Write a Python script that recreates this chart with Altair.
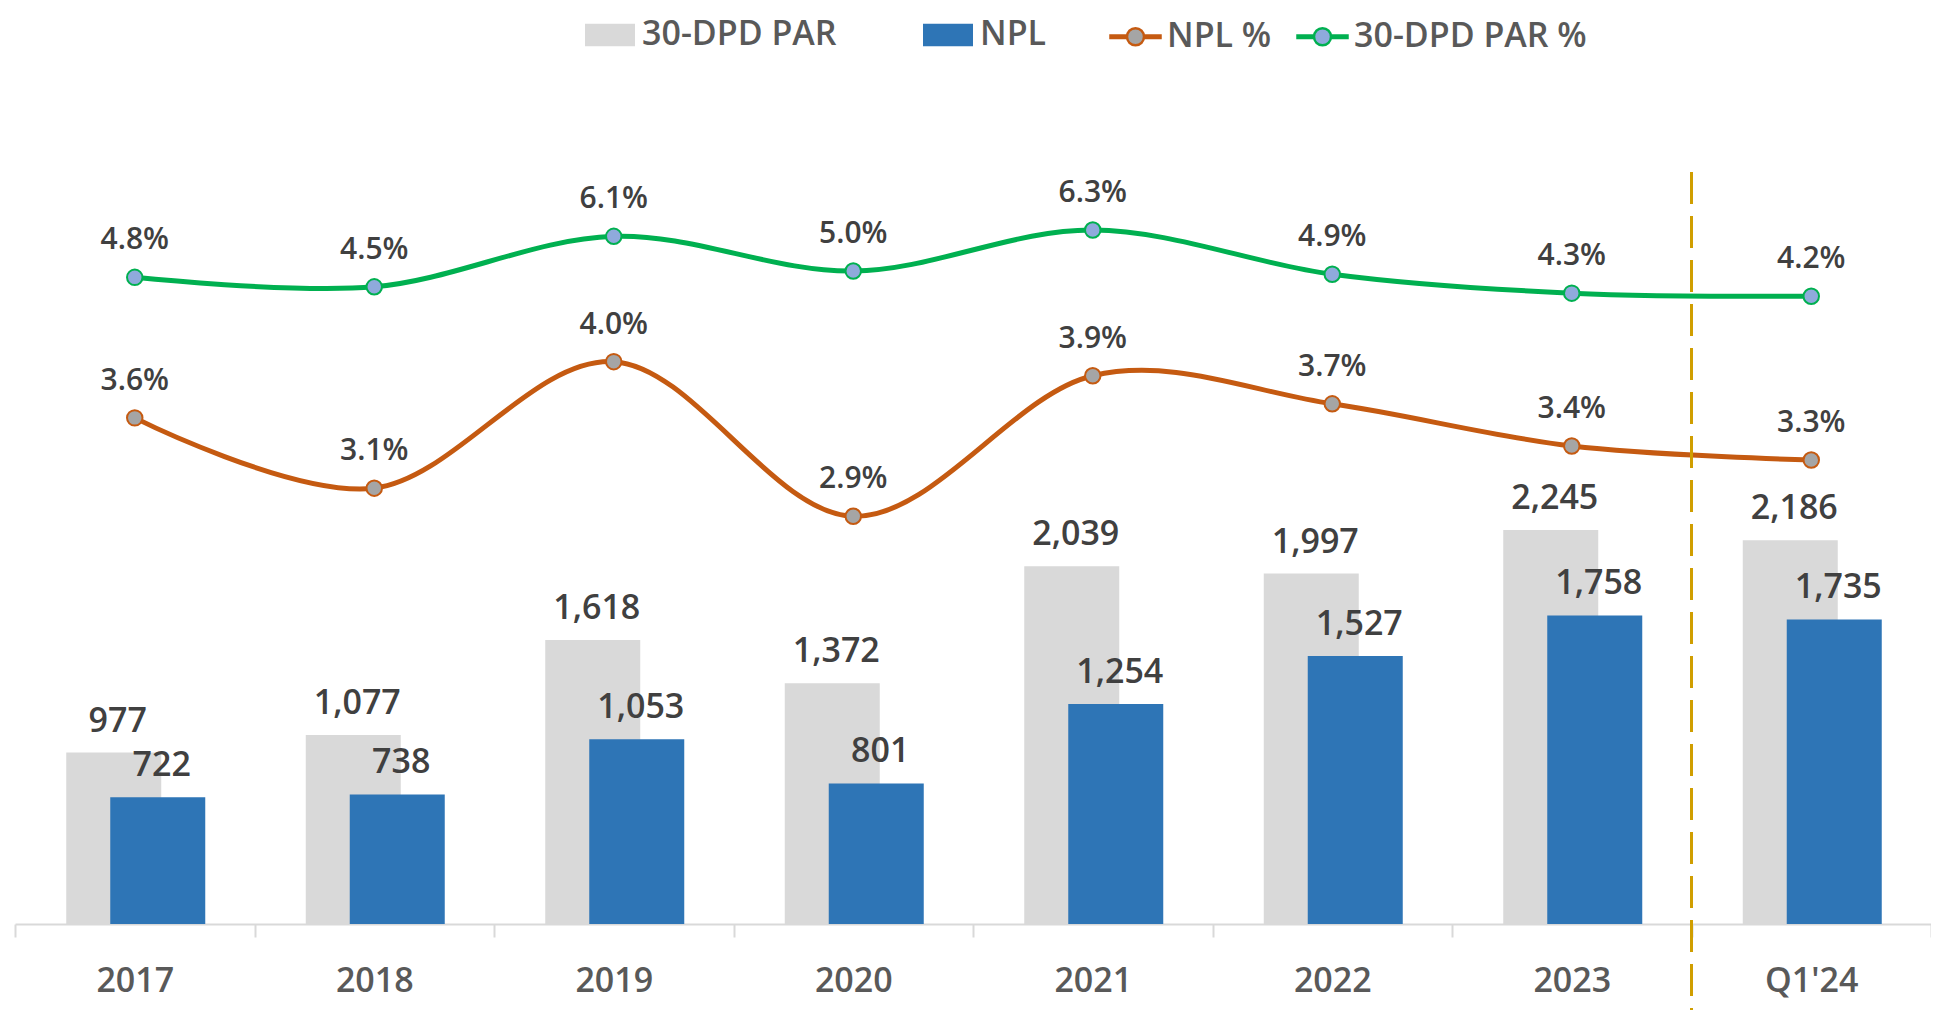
import altair as alt
import pandas as pd

cats = ["2017", "2018", "2019", "2020", "2021", "2022", "2023", "Q1'24"]
par = [977, 1077, 1618, 1372, 2039, 1997, 2245, 2186]
npl = [722, 738, 1053, 801, 1254, 1527, 1758, 1735]
npl_pct = [3.6, 3.1, 4.0, 2.9, 3.9, 3.7, 3.4, 3.3]
par_pct = [4.8, 4.5, 6.1, 5.0, 6.3, 4.9, 4.3, 4.2]

df = pd.DataFrame({"cat": cats, "par": par, "npl": npl,
                   "npl_pct": npl_pct, "par_pct": par_pct})

FONT = "Open Sans"
TXT = "#404040"
AX = "#595959"

xscale = alt.Scale(paddingInner=0, paddingOuter=0)
xaxis = alt.Axis(domainColor="#D9D9D9", domainWidth=2, tickColor="#D9D9D9",
                 tickWidth=2, tickSize=13, tickBand="extent", labelFont=FONT,
                 labelFontSize=34, labelFontWeight=600, labelColor=AX,
                 labelPadding=27, labelAngle=0, grid=False, title=None)
x = alt.X("cat:N", sort=cats, scale=xscale, axis=xaxis, title=None)

bar_scale = alt.Scale(domain=[0, 4695], nice=False, zero=True)
npl_scale = alt.Scale(domain=[0, 5.861], nice=False, zero=False)
par_scale = alt.Scale(domain=[-15.69, 10.42], nice=False, zero=False)

color_scale = alt.Scale(domain=["30-DPD PAR", "NPL"], range=["#D9D9D9", "#2E75B6"])
fill_scale = alt.Scale(domain=["NPL %", "30-DPD PAR %"], range=["#A5A5A5", "#8FAADC"])
stroke_scale = alt.Scale(domain=["NPL %", "30-DPD PAR %"], range=["#C55A11", "#00B050"])

bar_legend = alt.Legend(title=None, orient="none", legendX=570, legendY=-90,
                        direction="horizontal", symbolType="M-1,-0.45H1V0.45H-1Z",
                        symbolSize=2500, symbolStrokeWidth=0, labelFont=FONT,
                        labelFontSize=34, labelFontWeight=600, labelColor=AX,
                        labelOffset=7, columnPadding=86, padding=0, labelLimit=0)
line_sym = ("M-1,-0.05H-0.34V0.05H-1Z M0.34,-0.05H1V0.05H0.34Z "
            "M-0.34,0A0.34,0.34 0 1,1 0.34,0A0.34,0.34 0 1,1 -0.34,0Z")
line_legend = alt.Legend(title=None, orient="none", legendX=1094, legendY=-90,
                         direction="horizontal", symbolType=line_sym,
                         symbolSize=2500, symbolStrokeWidth=2.5, labelFont=FONT,
                         labelFontSize=34, labelFontWeight=600, labelColor=AX,
                         labelOffset=5, columnPadding=20, padding=0, labelLimit=0)

base = alt.Chart(df)

grey = base.transform_calculate(s="'30-DPD PAR'").mark_bar(size=95, xOffset=-21).encode(
    x=x, y=alt.Y("par:Q", scale=bar_scale, axis=None),
    color=alt.Color("s:N", scale=color_scale, legend=bar_legend))
blue = base.transform_calculate(s="'NPL'").mark_bar(size=95, xOffset=23).encode(
    x=x, y=alt.Y("npl:Q", scale=bar_scale, axis=None),
    color=alt.Color("s:N", scale=color_scale, legend=bar_legend))

grey_lab = base.mark_text(font=FONT, fontSize=34, fontWeight=600, color=TXT,
                          baseline="alphabetic", dy=-21, xOffset=-17).encode(
    x=x, y=alt.Y("par:Q", scale=bar_scale, axis=None),
    text=alt.Text("par:Q", format=","))
blue_lab = base.mark_text(font=FONT, fontSize=34, fontWeight=600, color=TXT,
                          baseline="alphabetic", dy=-21, xOffset=27).encode(
    x=x, y=alt.Y("npl:Q", scale=bar_scale, axis=None),
    text=alt.Text("npl:Q", format=","))

npl_line = base.mark_line(color="#C55A11", strokeWidth=5, interpolate="cardinal").encode(
    x=x, y=alt.Y("npl_pct:Q", scale=npl_scale, axis=None))
par_line = base.mark_line(color="#00B050", strokeWidth=5, interpolate="cardinal").encode(
    x=x, y=alt.Y("par_pct:Q", scale=par_scale, axis=None))

npl_pts = base.transform_calculate(s="'NPL %'").mark_circle(size=240, strokeWidth=2, opacity=1).encode(
    x=x, y=alt.Y("npl_pct:Q", scale=npl_scale, axis=None),
    fill=alt.Fill("s:N", scale=fill_scale, legend=line_legend),
    stroke=alt.Stroke("s:N", scale=stroke_scale, legend=line_legend))
par_pts = base.transform_calculate(s="'30-DPD PAR %'").mark_circle(size=240, strokeWidth=2, opacity=1).encode(
    x=x, y=alt.Y("par_pct:Q", scale=par_scale, axis=None),
    fill=alt.Fill("s:N", scale=fill_scale, legend=line_legend),
    stroke=alt.Stroke("s:N", scale=stroke_scale, legend=line_legend))

npl_lab = base.transform_calculate(lab="format(datum.npl_pct, '.1f') + '%'").mark_text(
    font=FONT, fontSize=30, fontWeight=600, color=TXT, baseline="alphabetic", dy=-28).encode(
    x=x, y=alt.Y("npl_pct:Q", scale=npl_scale, axis=None), text="lab:N")
par_lab = base.transform_calculate(lab="format(datum.par_pct, '.1f') + '%'").mark_text(
    font=FONT, fontSize=30, fontWeight=600, color=TXT, baseline="alphabetic", dy=-28).encode(
    x=x, y=alt.Y("par_pct:Q", scale=par_scale, axis=None), text="lab:N")

rule = base.transform_filter('datum.cat == "Q1\'24"').mark_rule(
    color="#D09E00", strokeWidth=3, strokeDash=[32, 12]).encode(
    x=alt.X("cat:N", sort=cats, scale=xscale, axis=xaxis, title=None, bandPosition=0),
    y=alt.value(72), y2=alt.value(910))

chart = alt.layer(grey, blue, grey_lab, blue_lab, npl_line, par_line, rule,
                  npl_pts, par_pts, npl_lab, par_lab).resolve_scale(
    y="independent").properties(
    width=1916, height=824,
    autosize=alt.AutoSizeParams(type="none"),
    padding={"left": 7, "top": 92, "right": 0, "bottom": 94},
).configure_view(stroke=None)

chart.save("out.html", embed_options={"renderer": "svg", "actions": False})
